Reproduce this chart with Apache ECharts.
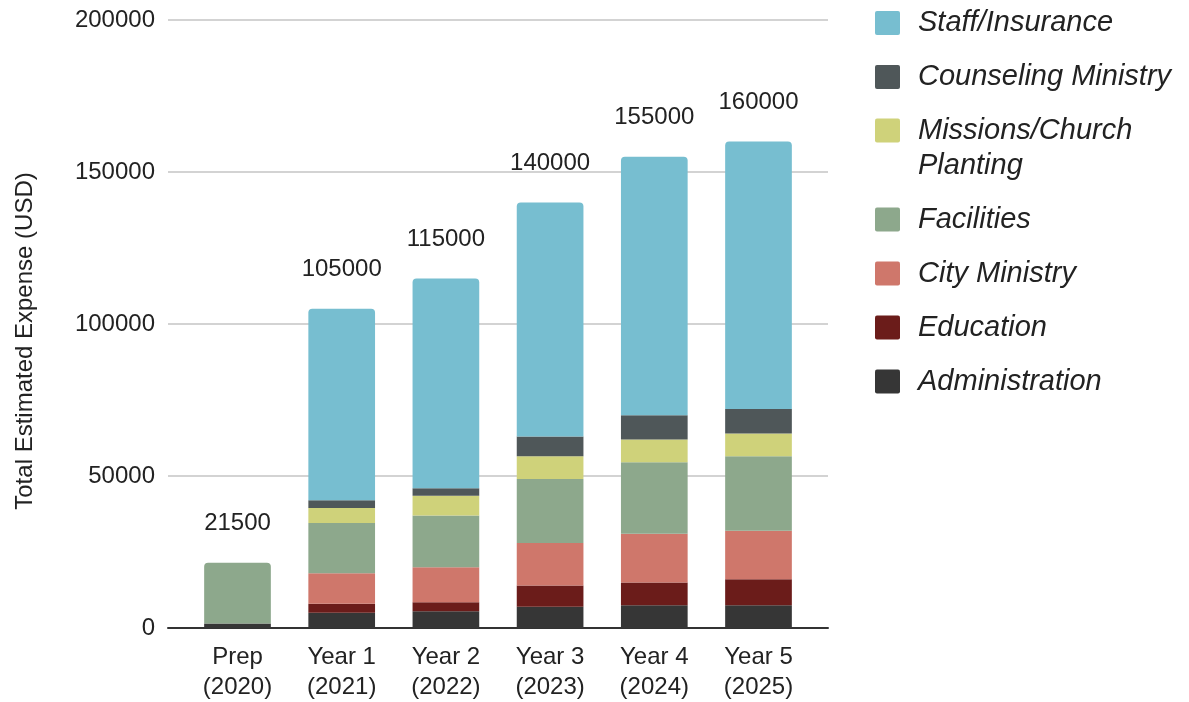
<!DOCTYPE html>
<html>
<head>
<meta charset="utf-8">
<script src="https://cdn.jsdelivr.net/npm/echarts@6/dist/echarts.min.js"></script>
<style>
  html, body { margin: 0; padding: 0; background: #fff; }
  #chart { width: 1189px; height: 702px; }
</style>
</head>
<body>
<div id="chart"></div>
<script>
const categories = ['Prep\n(2020)', 'Year 1\n(2021)', 'Year 2\n(2022)', 'Year 3\n(2023)', 'Year 4\n(2024)', 'Year 5\n(2025)'];

// stacked bottom to top
const administration = [1500, 5000, 5500, 7000, 7500, 7500];
const education      = [0, 3000, 3000, 7000, 7500, 8500];
const cityMinistry   = [0, 10000, 11500, 14000, 16000, 16000];
const facilities     = [20000, 16500, 17000, 21000, 23500, 24500];
const missions       = [0, 5000, 6500, 7500, 7500, 7500];
const counseling     = [0, 2500, 2500, 6500, 8000, 8000];
const staff          = [0, 63000, 69000, 77000, 85000, 88000];

const totals = [21500, 105000, 115000, 140000, 155000, 160000];

const yMin = 0;
const yMax = 200000;
const yInterval = 50000;

const FONT = "'Liberation Sans', Arial, sans-serif";
const TEXT = '#222222';

const stackDefs = [
  { name: 'Administration', data: administration, color: '#363636' },
  { name: 'Education', data: education, color: '#6b1c1a' },
  { name: 'City Ministry', data: cityMinistry, color: '#cf776b' },
  { name: 'Facilities', data: facilities, color: '#8da88c' },
  { name: 'Missions/Church Planting', data: missions, color: '#cfd27a' },
  { name: 'Counseling Ministry', data: counseling, color: '#4f5759' },
  { name: 'Staff/Insurance', data: staff, color: '#77bed0' }
];

// find the top (last non-zero) segment of each column
const topIndex = categories.map((_, i) => {
  let top = 0;
  stackDefs.forEach((s, k) => { if (s.data[i] > 0) top = k; });
  return top;
});

const barSeries = stackDefs.map((s, k) => ({
  name: s.name,
  type: 'bar',
  stack: 'total',
  xAxisIndex: 1,
  yAxisIndex: 1,
  barWidth: '64%',
  itemStyle: { color: s.color },
  data: s.data.map((v, i) => {
    if (topIndex[i] !== k) return v;
    return {
      value: v,
      itemStyle: { borderRadius: [4, 4, 0, 0] },
      label: {
        show: true,
        position: 'top',
        distance: 27,
        formatter: String(totals[i]),
        fontFamily: FONT,
        fontSize: 24,
        lineHeight: 24,
        color: TEXT
      }
    };
  })
}));

const legendIcon = 'path://M2,0h21a2,2 0 0 1 2,2v20a2,2 0 0 1 -2,2h-21a2,2 0 0 1 -2,-2v-20a2,2 0 0 1 2,-2z';
const legendText = {
  fontFamily: FONT,
  fontSize: 29,
  fontStyle: 'italic',
  color: TEXT,
  lineHeight: 35,
  padding: [0, 0, 0, 13]
};
const legendBase = {
  orient: 'vertical',
  left: 875,
  padding: 0,
  itemGap: 19,
  itemWidth: 25,
  itemHeight: 24,
  icon: legendIcon,
  selectedMode: false,
  textStyle: legendText
};

const chart = echarts.init(document.getElementById('chart'));

chart.setOption({
  animation: false,
  backgroundColor: '#ffffff',
  legend: [
    Object.assign({}, legendBase, {
      top: 5.5,
      data: ['Staff/Insurance', 'Counseling Ministry']
    }),
    Object.assign({}, legendBase, {
      // empty first line keeps the swatch level with the first text line
      top: 78,
      formatter: () => '\nMissions/Church\nPlanting',
      data: ['Missions/Church Planting']
    }),
    Object.assign({}, legendBase, {
      top: 202,
      data: ['Facilities', 'City Ministry', 'Education', 'Administration']
    })
  ],
  grid: [
    { left: 168, right: 361, top: 20, bottom: 74 },
    { left: 185.4, right: 378.4, top: 20, bottom: 74 }
  ],
  xAxis: [
    {
      type: 'value',
      gridIndex: 0,
      min: 0,
      max: 1,
      axisLine: { show: true, lineStyle: { color: '#333333', width: 2 } },
      axisTick: { show: false },
      axisLabel: { show: false },
      splitLine: { show: false }
    },
    {
      type: 'category',
      gridIndex: 1,
      data: categories,
      axisLine: { show: false },
      axisTick: { show: false },
      axisLabel: {
        margin: 14,
        fontFamily: FONT,
        fontSize: 24,
        lineHeight: 30,
        color: TEXT
      }
    }
  ],
  yAxis: [
    {
      type: 'value',
      gridIndex: 0,
      min: yMin,
      max: yMax,
      interval: yInterval,
      name: 'Total Estimated Expense (USD)',
      nameLocation: 'middle',
      nameGap: 131,
      nameTextStyle: {
        fontFamily: FONT,
        fontSize: 24,
        color: TEXT,
        padding: [0, 34, 0, 0]
      },
      axisLine: { show: false },
      axisTick: { show: false },
      axisLabel: {
        margin: 13,
        fontFamily: FONT,
        fontSize: 24,
        color: TEXT,
        formatter: (v) => String(v)
      },
      splitLine: { lineStyle: { color: '#d3d3d3', width: 2 } }
    },
    {
      type: 'value',
      gridIndex: 1,
      min: yMin,
      max: yMax,
      interval: yInterval,
      show: false,
      splitLine: { show: false }
    }
  ],
  series: barSeries
});
</script>
</body>
</html>
